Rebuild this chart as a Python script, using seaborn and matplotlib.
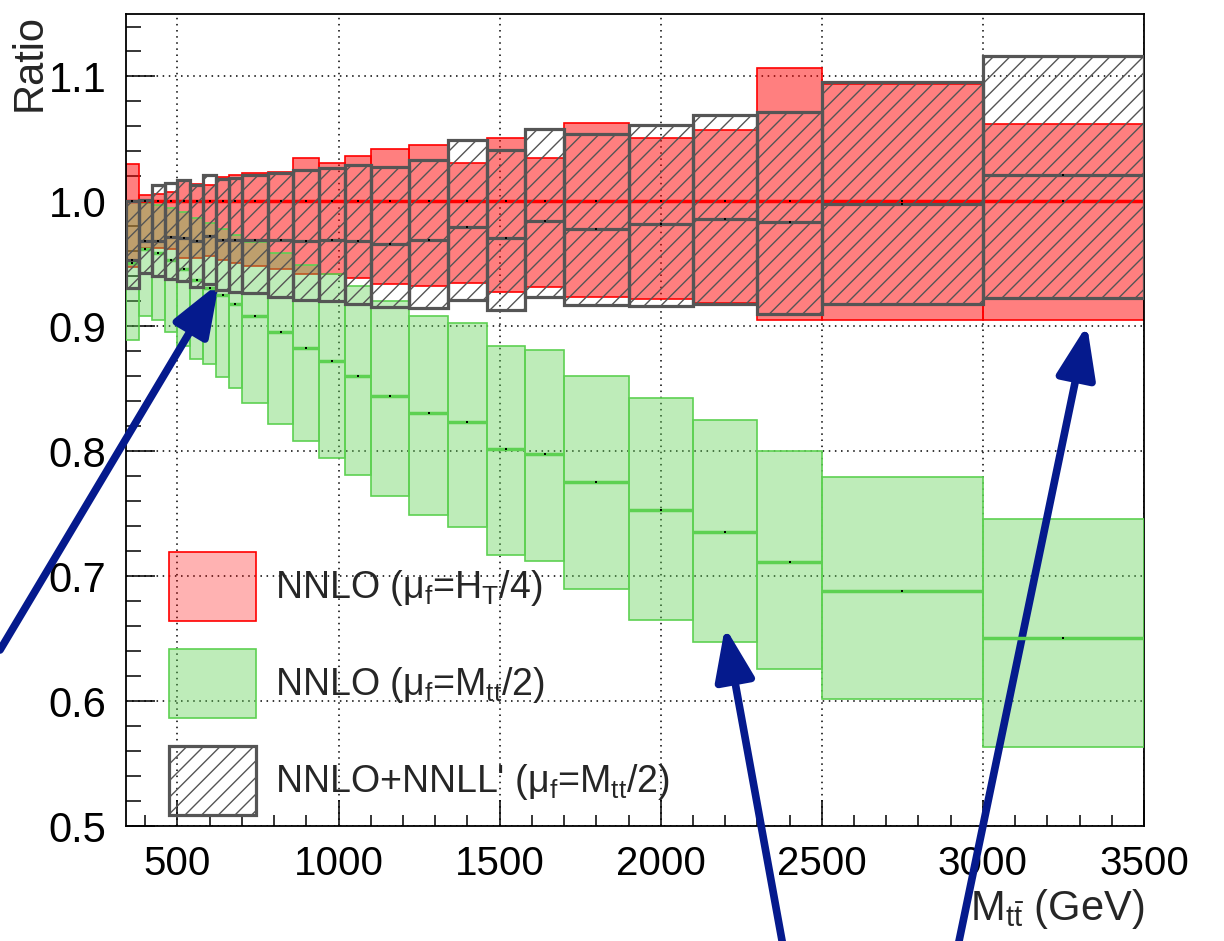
import numpy as np
import pandas as pd
import matplotlib
matplotlib.use("Agg")
import matplotlib.pyplot as plt
import seaborn as sns
from matplotlib.patches import Patch
from matplotlib.ticker import MultipleLocator, FormatStrFormatter

# bin edges in M_tt (GeV)
edges = [340, 380, 420, 460, 500, 540, 580, 620, 660, 700, 780, 860, 940, 1020,
         1100, 1220, 1340, 1460, 1580, 1700, 1900, 2100, 2300, 2500, 3000, 3500]

# NNLO (mu_f = H_T/4), ratio to itself -> centre at 1
red_up = [1.030, 1.005, 1.006, 1.0075, 1.017, 1.014, 1.013, 1.0195, 1.021, 1.023,
          1.0235, 1.035, 1.031, 1.036, 1.042, 1.045, 1.031, 1.0507, 1.035, 1.0627,
          1.051, 1.057, 1.107, 1.094, 1.062]
red_mid = [1.0] * 25
red_dn = [0.9475, 0.963, 0.9627, 0.9616, 0.955, 0.9547, 0.956, 0.9528, 0.9507, 0.948,
          0.946, 0.942, 0.942, 0.9387, 0.9341, 0.9323, 0.935, 0.9275, 0.9315, 0.9235,
          0.9219, 0.9185, 0.905, 0.905, 0.905]

# NNLO (mu_f = M_tt/2)
green_up = [1.0, 0.999, 0.997, 0.995, 0.9915, 0.987, 0.983, 0.978, 0.9733, 0.9675,
            0.959, 0.9492, 0.9417, 0.932, 0.9203, 0.9085, 0.9027, 0.884, 0.881, 0.8605,
            0.8425, 0.825, 0.800, 0.779, 0.746]
green_mid = [0.951, 0.962, 0.959, 0.953, 0.946, 0.937, 0.931, 0.925, 0.918, 0.9085,
             0.8955, 0.883, 0.8725, 0.860, 0.8445, 0.831, 0.8235, 0.8015, 0.7975, 0.7754,
             0.753, 0.735, 0.711, 0.688, 0.6505]
green_dn = [0.889, 0.908, 0.905, 0.8955, 0.884, 0.874, 0.8695, 0.8595, 0.8507, 0.8386,
            0.8217, 0.8083, 0.7947, 0.7808, 0.7643, 0.7493, 0.7397, 0.717, 0.7125, 0.6896,
            0.6651, 0.6475, 0.626, 0.602, 0.563]

# NNLO+NNLL' (mu_f = M_tt/2)
hat_up = [1.0, 1.001, 1.0128, 1.0147, 1.0168, 1.0132, 1.0208, 1.018, 1.0188, 1.0211,
          1.023, 1.0253, 1.027, 1.0288, 1.0275, 1.0332, 1.0488, 1.0413, 1.058, 1.0536,
          1.0608, 1.0693, 1.0715, 1.0955, 1.116]
hat_mid = [0.953, 0.968, 0.968, 0.9717, 0.9707, 0.9683, 0.972, 0.9694, 0.9694, 0.9688,
           0.969, 0.9685, 0.9688, 0.9683, 0.9656, 0.9688, 0.9795, 0.971, 0.9845, 0.978,
           0.9816, 0.986, 0.9835, 0.998, 1.021]
hat_dn = [0.931, 0.943, 0.940, 0.9376, 0.9363, 0.9315, 0.934, 0.9288, 0.9275, 0.9267,
          0.9235, 0.9208, 0.9205, 0.918, 0.9155, 0.915, 0.9213, 0.913, 0.9235, 0.917,
          0.9165, 0.9178, 0.910, 0.9176, 0.923]

labels = [r"NNLO (μ$_{\mathrm{f}}$=H$_{\mathrm{T}}$/4)",
          r"NNLO (μ$_{\mathrm{f}}$=M$_{\mathrm{tt}}$/2)",
          r"NNLO+NNLL' (μ$_{\mathrm{f}}$=M$_{\mathrm{tt}}$/2)"]

sns.set_style("ticks")
plt.rcParams["font.family"] = ["Liberation Sans", "DejaVu Sans"]
plt.rcParams["mathtext.fontset"] = "custom"
plt.rcParams["mathtext.rm"] = "Liberation Sans"
plt.rcParams["mathtext.it"] = "Liberation Sans:italic"
plt.rcParams["hatch.linewidth"] = 1.0
plt.rcParams["hatch.color"] = "#555555"

lo = np.array(edges[:-1])
hi = np.array(edges[1:])
width = hi - lo
centre = (lo + hi) / 2

RED = (1.0, 0.0, 0.0)
GREEN = (93 / 255, 209 / 255, 82 / 255)
GREY = "#555555"

fig = plt.figure(figsize=(12.24, 9.41), dpi=100)
ax = fig.add_axes([0.1029, 0.1222, 0.8317, 0.8629])

# bands
ax.bar(lo, np.array(red_up) - np.array(red_dn), bottom=red_dn, width=width, align="edge",
       facecolor=RED + (0.5,), edgecolor=RED, linewidth=1.2, zorder=2)
ax.bar(lo, np.array(green_up) - np.array(green_dn), bottom=green_dn, width=width, align="edge",
       facecolor=GREEN + (0.4,), edgecolor=GREEN, linewidth=1.2, zorder=3)
ax.hlines(red_mid, lo, hi, color=RED, linewidth=2.5, zorder=4)
ax.hlines(green_mid, lo, hi, color=GREEN, linewidth=2.5, zorder=4)
ax.bar(lo, np.array(hat_up) - np.array(hat_dn), bottom=hat_dn, width=width, align="edge",
       facecolor="none", edgecolor=GREY, hatch="//", linewidth=2.3, zorder=5)
ax.hlines(hat_mid, lo, hi, color=GREY, linewidth=2.3, zorder=6)

# small centre markers
dots = pd.DataFrame({"x": np.concatenate([centre, centre, centre]),
                     "y": np.concatenate([red_mid, green_mid, hat_mid])})
sns.scatterplot(data=dots, x="x", y="y", ax=ax, color="black", s=3, marker="s",
                linewidth=0, zorder=7)

# axes
ax.set_xlim(340, 3500)
ax.set_ylim(0.5, 1.15)
ax.xaxis.set_major_locator(MultipleLocator(500))
ax.xaxis.set_minor_locator(MultipleLocator(100))
ax.yaxis.set_major_locator(MultipleLocator(0.1))
ax.yaxis.set_minor_locator(MultipleLocator(0.02))
ax.yaxis.set_major_formatter(FormatStrFormatter("%.1f"))
ax.tick_params(axis="both", which="both", direction="in", width=1.1, colors="black")
ax.tick_params(axis="y", which="major", length=21, labelsize=30, pad=14)
ax.tick_params(axis="y", which="minor", length=11)
ax.tick_params(axis="x", which="major", length=19, labelsize=29, pad=14)
ax.tick_params(axis="x", which="minor", length=8)
ax.grid(True, which="major", color="black", linestyle=(0, (1, 3)), linewidth=1.1)
ax.set_axisbelow(True)
for s in ax.spines.values():
    s.set_linewidth(1.3)
    s.set_color("black")

ax.set_ylabel("Ratio", fontsize=30, loc="top")
ax.yaxis.set_label_coords(-0.075, 1.0)
ax.set_xlabel(r"M$_{\mathrm{t\bar{t}}}$ (GeV)", fontsize=30, loc="right")
ax.xaxis.set_label_coords(1.0, -0.075)

handles = [Patch(facecolor=RED + (0.3,), edgecolor=RED, linewidth=1.2),
           Patch(facecolor=GREEN + (0.4,), edgecolor=GREEN, linewidth=1.2),
           Patch(facecolor="none", edgecolor=GREY, hatch="//", linewidth=2.3)]
ax.legend(handles, labels, loc="upper left", bbox_to_anchor=(0.042, 0.3374),
          frameon=False, fontsize=27, handlelength=2.34, handleheight=2.45,
          labelspacing=0.75, handletextpad=0.5, borderpad=0, borderaxespad=0)

# navy annotation arrows (figure pixels, origin bottom-left)
arrows = [((0, 291), (219, 658)), ((783, -5), (725, 314)), ((958, -5), (1087, 616))]
for tail, tip in arrows:
    ax.annotate("", xy=tip, xytext=tail, xycoords="figure pixels",
                textcoords="figure pixels", annotation_clip=False,
                arrowprops=dict(arrowstyle="-|>,head_length=1.6,head_width=0.6",
                                mutation_scale=20, color="#051a8d", lw=5.5,
                                shrinkA=0, shrinkB=0))

fig.savefig("out.png", dpi=100)
